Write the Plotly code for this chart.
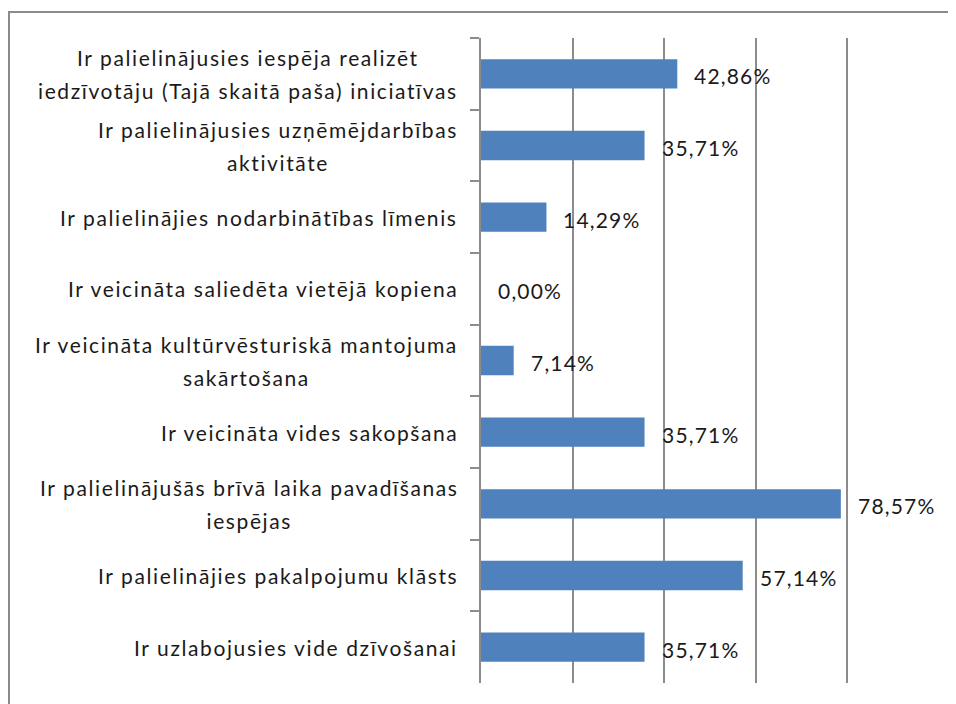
import plotly.graph_objects as go

# categories top to bottom, as in the chart
categories = [
    "Ir palielinājusies iespēja realizēt<br>iedzīvotāju (Tajā skaitā paša) iniciatīvas",
    "Ir palielinājusies uzņēmējdarbības<br>aktivitāte",
    "Ir palielinājies nodarbinātības līmenis",
    "Ir veicināta saliedēta vietējā kopiena",
    "Ir veicināta kultūrvēsturiskā mantojuma<br>sakārtošana",
    "Ir veicināta vides sakopšana",
    "Ir palielinājušās brīvā laika pavadīšanas<br>iespējas",
    "Ir palielinājies pakalpojumu klāsts",
    "Ir uzlabojusies vide dzīvošanai",
]
values = [42.86, 35.71, 14.29, 0.00, 7.14, 35.71, 78.57, 57.14, 35.71]
value_labels = [f"{v:.2f}".replace(".", ",") + "%" for v in values]

# the page body has an 8px margin, so the figure is a bit smaller
W, H = 948, 696
L, R, T, B = 473, 17, 30, 21
plot_w, plot_h = W - L - R, H - T - B
font = "Lato"
txt = "#1a1a1a"
grey = "#8c8c8c"
span = "<span style='font-size:21px;letter-spacing:{}px'>{}</span>"

fig = go.Figure(go.Bar(
    x=values, y=categories, orientation="h",
    marker=dict(color="#4f81bd", line=dict(width=0)),
    width=0.41, hoverinfo="skip",
))

ann = []
for cat, v, lab in zip(categories, values, value_labels):
    # spans keep the small text while the bigger base size spaces the lines
    text = "<br>".join(span.format(1.6, s) for s in cat.split("<br>"))
    ann.append(dict(
        x=0, xref="paper", y=cat, yref="y", text=text, showarrow=False,
        xanchor="right", yanchor="middle", align="center", xshift=-21,
        font=dict(family=font, size=25, color=txt),
    ))
    ann.append(dict(
        x=v, y=cat, text=span.format(1.2, lab), showarrow=False,
        xanchor="left", yanchor="middle",
        xshift=15, yshift=-2, font=dict(family=font, size=21, color=txt),
    ))

fig.update_layout(
    width=W, height=H,
    margin=dict(l=L, r=R, t=T, b=B),
    paper_bgcolor="white", plot_bgcolor="white",
    showlegend=False,
    annotations=ann,
    xaxis=dict(range=[0, 100], dtick=20, showticklabels=False, ticks="",
               showgrid=True, gridcolor=grey, gridwidth=1.5,
               zeroline=False, showline=False, fixedrange=True),
    yaxis=dict(autorange="reversed", showticklabels=False,
               ticks="outside", tickson="boundaries", ticklen=9,
               tickcolor=grey, tickwidth=1.5,
               showline=True, linecolor=grey, linewidth=1.5,
               showgrid=False, zeroline=False),
    shapes=[dict(type="rect", xref="paper", yref="paper",
                 x0=(1 - L) / plot_w, x1=2, y0=-1, y1=1 + (T - 4) / plot_h,
                 line=dict(color="#8a8a8a", width=2), layer="below")],
)

fig.write_html("out.html")
